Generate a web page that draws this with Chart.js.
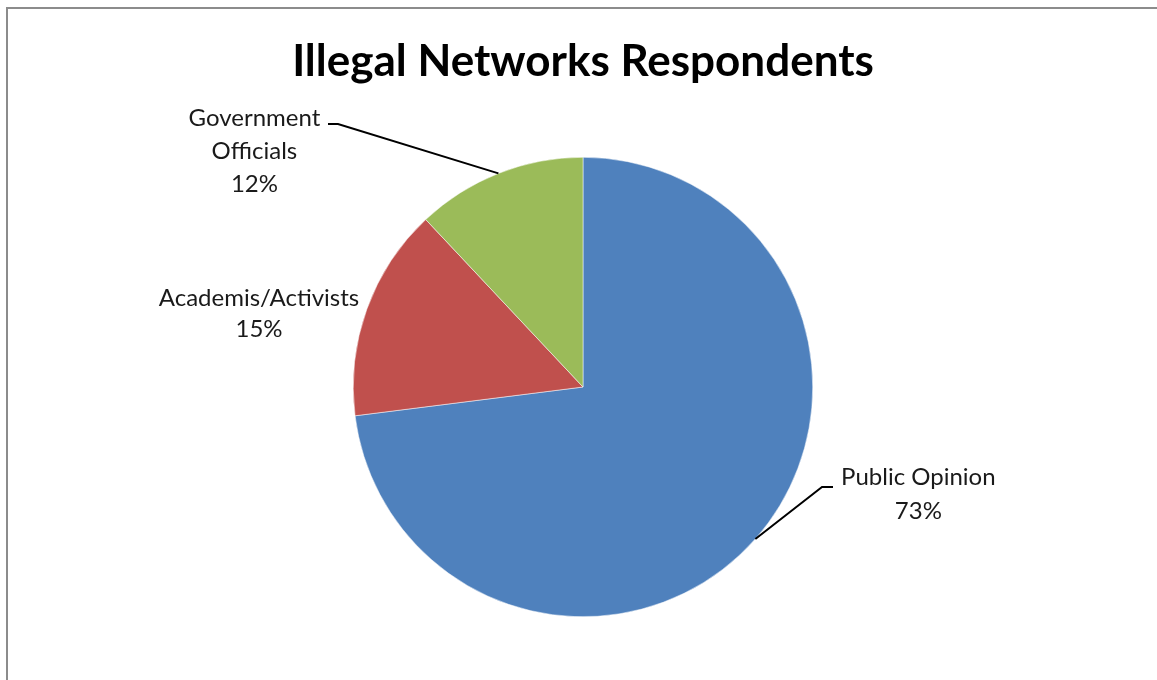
<!DOCTYPE html>
<html>
<head>
<meta charset="utf-8">
<script src="https://cdn.jsdelivr.net/npm/chart.js@4/dist/chart.umd.min.js"></script>
<style>
  html, body { margin: 0; padding: 0; background: #fff; }
  #wrap { position: relative; width: 1157px; height: 680px; }
</style>
</head>
<body>
<div id="wrap"><canvas id="pieChart" width="1157" height="680"></canvas></div>
<script>
// Chart data
var chartTitle = 'Illegal Networks Respondents';
var categories = ['Public Opinion', 'Academis/Activists', 'Government Officials'];
var labelLines = [['Public Opinion'], ['Academis/Activists'], ['Government', 'Officials']];
var shares = [73, 15, 12];
var sliceColors = ['#4F81BD', '#C0504D', '#9BBB59'];

// Frame + title + data labels with leader lines
var excelDecor = {
    id: 'excelDecor',
    beforeDraw: function (chart) {
        var ctx = chart.ctx;
        ctx.save();
        ctx.fillStyle = '#fff';
        ctx.fillRect(0, 0, chart.width, chart.height);
        ctx.strokeStyle = '#8c8c8c';
        ctx.lineWidth = 2;
        ctx.beginPath();
        ctx.moveTo(7, chart.height);
        ctx.lineTo(7, 8);
        ctx.lineTo(chart.width, 8);
        ctx.stroke();
        ctx.restore();
    },
    afterDraw: function (chart) {
        var ctx = chart.ctx;
        var meta = chart.getDatasetMeta(0);
        ctx.save();
        ctx.fillStyle = '#000';
        ctx.textAlign = 'center';
        ctx.textBaseline = 'middle';
        ctx.font = 'bold 44px Lato';
        ctx.fillText(chartTitle, 583, 62);

        // label anchors relative to slice mid-point on the edge
        var place = [
            { dx: 163, dy: -62, lead: [[822, 487], [833, 487]], lineH: 34 },
            { dx: 0, dy: 0, fixed: [259, 298], lineH: 31 },
            { dx: -244, dy: -55, lead: [[338, 124], [328, 124]], lineH: 33 }
        ];
        ctx.font = '24px Lato';
        ctx.fillStyle = '#1a1a1a';
        for (var i = 0; i < meta.data.length; i++) {
            var arc = meta.data[i];
            var mid = (arc.startAngle + arc.endAngle) / 2;
            var ex = arc.x + Math.cos(mid) * arc.outerRadius;
            var ey = arc.y + Math.sin(mid) * arc.outerRadius;
            var p = place[i];
            var lx, ly;
            if (p.fixed) { lx = p.fixed[0]; ly = p.fixed[1]; }
            else { lx = ex + p.dx; ly = ey + p.dy; }
            var lines = labelLines[i].concat([shares[i] + '%']);
            for (var j = 0; j < lines.length; j++) {
                ctx.fillText(lines[j], lx, ly + j * p.lineH);
            }
            if (p.lead) {
                ctx.strokeStyle = '#000';
                ctx.lineWidth = 2;
                ctx.beginPath();
                ctx.moveTo(ex, ey);
                ctx.lineTo(p.lead[0][0], p.lead[0][1]);
                ctx.lineTo(p.lead[1][0], p.lead[1][1]);
                ctx.stroke();
            }
        }
        ctx.restore();
    }
};

var pieCtx = document.getElementById('pieChart').getContext('2d');
var pieChart = new Chart(pieCtx, {
    type: 'pie',
    data: {
        labels: categories,
        datasets: [
            {
                data: shares,
                backgroundColor: sliceColors,
                borderColor: '#ffffff',
                borderWidth: 0.5
            }
        ]
    },
    options: {
        responsive: false,
        animation: false,
        layout: {
            padding: { left: 353, right: 344, top: 157, bottom: 63 }
        },
        plugins: {
            legend: { display: false },
            tooltip: { enabled: false },
            title: { display: false }
        }
    },
    plugins: [excelDecor]
});
</script>
</body>
</html>
